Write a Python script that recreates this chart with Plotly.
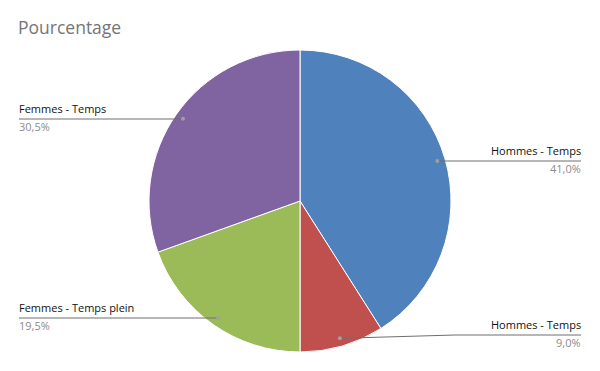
import math
import plotly.graph_objects as go

categories = ["Hommes - Temps", "Hommes - Temps", "Femmes - Temps plein", "Femmes - Temps"]
values = [41.0, 9.0, 19.5, 30.5]
value_labels = ["41,0%", "9,0%", "19,5%", "30,5%"]
colors = ["#4F81BD", "#C0504D", "#9BBB59", "#8064A2"]

W, H = 600, 371
cx, cy, R = 300, 201, 151
# label layout: side and y of the label line (pixels)
label_side = ["right", "right", "left", "left"]
label_line_y = [161, 335, 318, 119]
left_x, right_x = 19, 581

fig = go.Figure(go.Pie(
    labels=[str(i) for i in range(len(values))],
    values=values,
    sort=False,
    direction="clockwise",
    rotation=0,
    marker=dict(colors=colors, line=dict(color="white", width=1)),
    textinfo="none",
    hoverinfo="skip",
    showlegend=False,
    domain=dict(x=[(cx - R) / W, (cx + R) / W], y=[(H - cy - R) / H, (H - cy + R) / H]),
))

def px(x):
    return x / W

def py(y):
    return 1 - y / H

shapes = []
annotations = []
total = sum(values)
cum = 0.0
for i, v in enumerate(values):
    mid = (cum + v / 2) / total * 2 * math.pi
    cum += v
    rho = 0.947 * R
    dx = cx + rho * math.sin(mid)
    dy = cy - rho * math.cos(mid)
    ly = label_line_y[i]
    if label_side[i] == "right":
        ex = right_x
        tx = right_x + 2
        kink = dx + (115 if abs(ly - dy) > 1 else 0)
        xa = "right"
    else:
        ex = left_x
        tx = left_x - 2
        kink = dx
        xa = "left"
    # leader line
    shapes.append(dict(type="line", xref="paper", yref="paper",
                       x0=px(dx), y0=py(dy), x1=px(kink), y1=py(ly),
                       line=dict(color="#6e6e6e", width=1)))
    shapes.append(dict(type="line", xref="paper", yref="paper",
                       x0=px(kink), y0=py(ly), x1=px(ex), y1=py(ly),
                       line=dict(color="#6e6e6e", width=1)))
    shapes.append(dict(type="circle", xref="paper", yref="paper",
                       xsizemode="pixel", ysizemode="pixel",
                       xanchor=px(dx), yanchor=py(dy),
                       x0=-2, x1=2, y0=-2, y1=2,
                       fillcolor="#a0a0a0", line=dict(width=0)))
    annotations.append(dict(xref="paper", yref="paper", x=px(tx), y=py(ly - 1),
                            xanchor=xa, yanchor="bottom", showarrow=False,
                            text=categories[i],
                            font=dict(family="Open Sans", size=11, color="#111111")))
    annotations.append(dict(xref="paper", yref="paper", x=px(tx), y=py(ly - 2),
                            xanchor=xa, yanchor="top", showarrow=False,
                            text=value_labels[i],
                            font=dict(family="Open Sans", size=11, color="#8c8c8c")))

annotations.append(dict(xref="paper", yref="paper", x=px(16), y=py(27),
                        xanchor="left", yanchor="middle", showarrow=False,
                        text="Pourcentage",
                        font=dict(family="Open Sans", size=17.5, color="#757575")))

fig.update_layout(
    width=W, height=H,
    margin=dict(l=0, r=0, t=0, b=0),
    paper_bgcolor="white",
    plot_bgcolor="white",
    shapes=shapes,
    annotations=annotations,
)

fig.write_html("out.html")
